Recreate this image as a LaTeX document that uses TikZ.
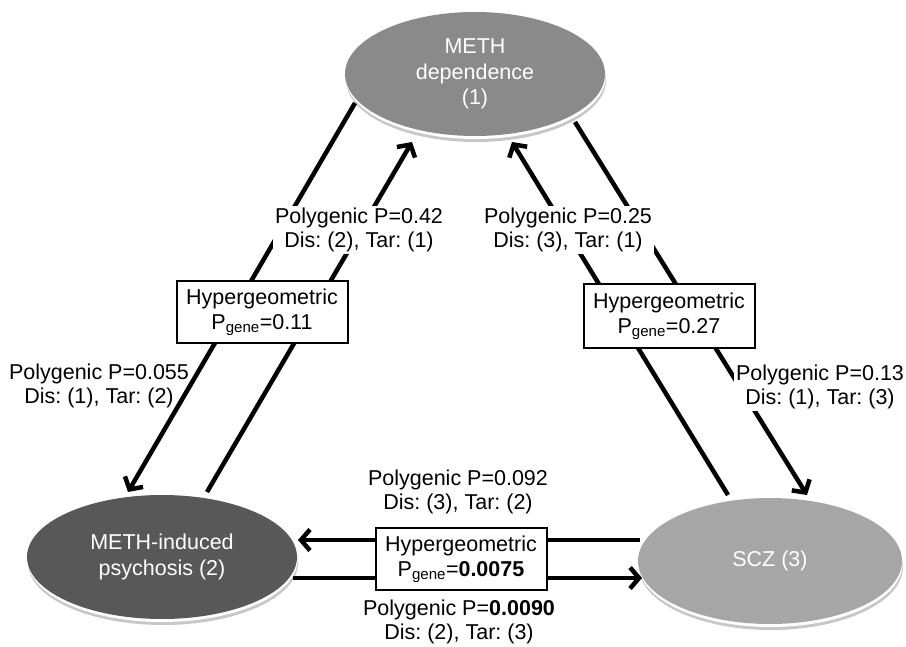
\documentclass[tikz,border=0pt]{standalone}
\usepackage{fontspec}
\setmainfont{Liberation Sans}
\usetikzlibrary{arrows.meta,shapes.geometric}
\definecolor{eone}{HTML}{8A8A8A}
\definecolor{etwo}{HTML}{585858}
\definecolor{ethree}{HTML}{A6A6A6}
\frenchspacing
\begin{document}
\frenchspacing
\begin{tikzpicture}[x=1pt,y=-1pt,
  ell/.style={ellipse, inner sep=0pt, text=white, align=center, font=\fontsize{21.5}{26}\selectfont},
  rimgray/.style={fill=black!22},
  conn/.style={line width=4.5pt},
  arr/.style={conn, -{Straight Barb[length=9pt,width=21pt]}},
  hbox/.style={draw, line width=2pt, fill=white, minimum width=171pt, minimum height=62pt, align=center, inner sep=2pt, font=\fontsize{21.5}{25}\selectfont},
  lab/.style={align=center, inner sep=2pt, font=\fontsize{21.5}{24.5}\selectfont},
  labw/.style={lab, fill=white}]
\useasboundingbox (0,0) rectangle (906,647);
% rims under ellipses
\fill[rimgray] (476,80) ellipse [x radius=130pt, y radius=62pt];
\fill[white] (475.5,77) ellipse [x radius=130pt, y radius=62pt];
\fill[rimgray] (163,563) ellipse [x radius=135pt, y radius=62pt];
\fill[white] (162.5,560) ellipse [x radius=135pt, y radius=62pt];
\fill[rimgray] (771,567) ellipse [x radius=132pt, y radius=63pt];
\fill[white] (770.5,564) ellipse [x radius=132pt, y radius=63pt];
% ellipses
\node[ell, fill=eone, minimum width=260pt, minimum height=124pt, font=\fontsize{21.5}{25.5}\selectfont] (dep) at (475,74) {METH\\dependence\\(1)};
\node[ell, fill=etwo, minimum width=270pt, minimum height=124pt] (psy) at (162,557) {METH-induced\\psychosis (2)};
\node[ell, fill=ethree, minimum width=264pt, minimum height=126pt] (scz) at (770,561) {SCZ (3)};
% connector ends
\coordinate (l1s) at (355,103);
\coordinate (l1e) at (128,492);
\coordinate (l2s) at (207,492);
\coordinate (l2e) at (412,142);
\coordinate (r1s) at (575,122);
\coordinate (r1e) at (807,495);
\coordinate (r2s) at (728,495);
\coordinate (r2e) at (512,142);
\coordinate (b1s) at (640,540);
\coordinate (b1e) at (298,540);
\coordinate (b2s) at (293,578);
\coordinate (b2e) at (642,578);
% connectors
\draw[arr] (l1s) -- (l1e);
\draw[arr] (l2s) -- (l2e);
\draw[arr] (r1s) -- (r1e);
\draw[arr] (r2s) -- (r2e);
\draw[arr] (b1s) -- (b1e);
\draw[arr] (b2s) -- (b2e);
% hypergeometric boxes
\node[hbox] (hl) at (262,312) {Hypergeometric\\P\textsubscript{gene}=0.11};
\node[hbox, minimum height=64pt] (hr) at (669,316) {Hypergeometric\\P\textsubscript{gene}=0.27};
\node[hbox] (hb) at (461,559) {Hypergeometric\\P\textsubscript{gene}=\textbf{0.0075}};
% polygenic labels
\node[labw] (p042) at (359,230) {Polygenic P=0.42\\Dis: (2), Tar: (1)};
\node[labw] (p025) at (568,230) {Polygenic P=0.25\\Dis: (3), Tar: (1)};
\node[lab] (p055) at (99,386) {Polygenic P=0.055\\Dis: (1), Tar: (2)};
\node[labw] (p013) at (820,387) {Polygenic P=0.13\\Dis: (1), Tar: (3)};
\node[lab] (p092) at (458,492) {Polygenic P=0.092\\Dis: (3), Tar: (2)};
\node[lab] (p090) at (459,622) {Polygenic P=\textbf{0.0090}\\Dis: (2), Tar: (3)};
\end{tikzpicture}
\end{document}
